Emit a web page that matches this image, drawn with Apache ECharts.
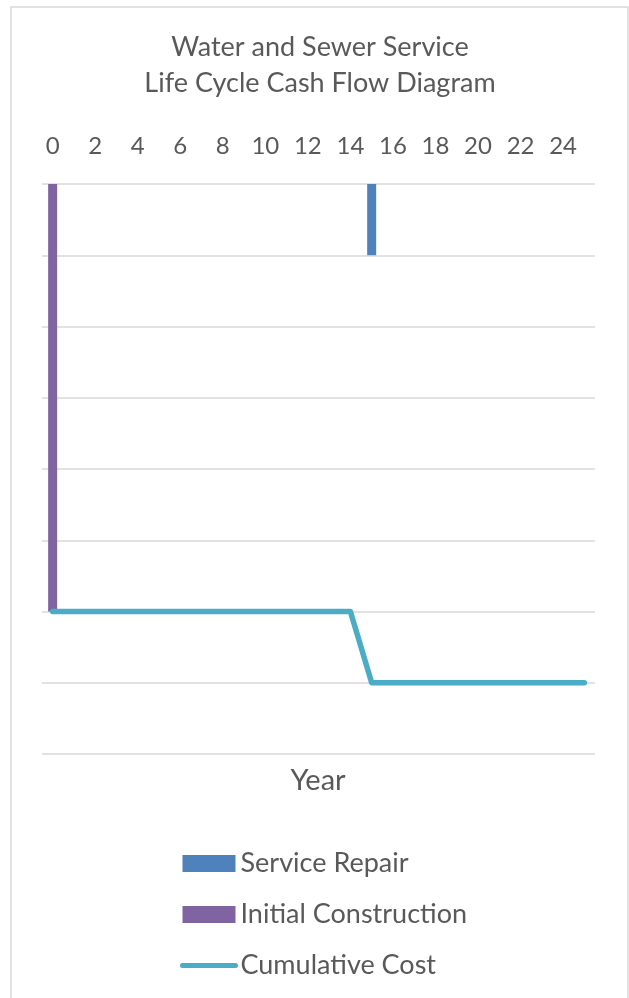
<!DOCTYPE html>
<html>
<head>
<meta charset="utf-8">
<script src="https://cdn.jsdelivr.net/npm/echarts@6/dist/echarts.min.js"></script>
<style>
  html, body { margin: 0; padding: 0; background: #fff; }
  #chart { width: 629px; height: 998px; }
</style>
</head>
<body>
<div id="chart"></div>
<script>
// years on the x axis
const years = ['0','1','2','3','4','5','6','7','8','9','10','11','12','13','14','15','16','17','18','19','20','21','22','23','24','25'];

// cash flows (negative = cost)
const serviceRepair = [null,null,null,null,null,null,null,null,null,null,null,null,null,null,null,-1,null,null,null,null,null,null,null,null,null,null];
const initialConstruction = [-6,null,null,null,null,null,null,null,null,null,null,null,null,null,null,null,null,null,null,null,null,null,null,null,null,null];
const cumulativeCost = [-6,-6,-6,-6,-6,-6,-6,-6,-6,-6,-6,-6,-6,-6,-6,-7,-7,-7,-7,-7,-7,-7,-7,-7,-7,-7];

const textColor = '#595959';
const font = 'Lato';

const chart = echarts.init(document.getElementById('chart'));

var option = {
  textStyle: { fontFamily: font },
  title: [{
    text: 'Water and Sewer Service\nLife Cycle Cash Flow Diagram',
    left: 315,
    top: 24,
    textAlign: 'center',
    textStyle: {
      color: textColor,
      fontFamily: font,
      fontWeight: 'normal',
      fontSize: 27,
      lineHeight: 36
    }
  }, {
    text: 'Year',
    left: 313,
    top: 761,
    textAlign: 'center',
    textStyle: {
      color: textColor,
      fontFamily: font,
      fontWeight: 'normal',
      fontSize: 29
    }
  }],
  graphic: [{
    type: 'rect',
    shape: { x: 11, y: 7, width: 617, height: 1000 },
    style: { fill: 'none', stroke: '#d9d9d9', lineWidth: 1.5 },
    silent: true
  }],
  legend: {
    orient: 'vertical',
    left: 180,
    top: 850,
    padding: 0,
    itemWidth: 53,
    itemHeight: 17,
    itemGap: 24,
    data: [
      { name: 'Service Repair', icon: 'rect' },
      { name: 'Initial Construction', icon: 'rect' },
      { name: 'Cumulative Cost', itemStyle: { opacity: 0 }, lineStyle: { width: 5, cap: 'round' } }
    ],
    textStyle: { color: textColor, fontSize: 27, fontFamily: font }
  },
  grid: {
    left: 42,
    right: 34,
    top: 184,
    bottom: 244,
    containLabel: false
  },
  xAxis: {
    type: 'category',
    position: 'top',
    data: years,
    boundaryGap: true,
    axisLine: { show: false },
    axisTick: { show: false },
    axisLabel: {
      interval: 1,
      color: textColor,
      fontSize: 24,
      fontFamily: font,
      margin: 26
    }
  },
  yAxis: {
    type: 'value',
    min: -8,
    max: 0,
    interval: 1,
    axisLine: { show: false },
    axisTick: { show: false },
    axisLabel: { show: false },
    splitLine: { lineStyle: { color: '#d9d9d9', width: 1.5 } }
  },
  series: [{
    name: 'Service Repair',
    type: 'bar',
    data: serviceRepair,
    barWidth: 9,
    barGap: '-100%',
    itemStyle: { color: '#4f81bd' }
  }, {
    name: 'Initial Construction',
    type: 'bar',
    data: initialConstruction,
    barWidth: 9,
    barGap: '-100%',
    itemStyle: { color: '#8064a2' }
  }, {
    name: 'Cumulative Cost',
    type: 'line',
    data: cumulativeCost,
    symbol: 'none',
    lineStyle: { color: '#4bacc6', width: 5.5, cap: 'round', join: 'round' },
    itemStyle: { color: '#4bacc6' },
    z: 3
  }]
};

chart.setOption(option);
</script>
</body>
</html>
